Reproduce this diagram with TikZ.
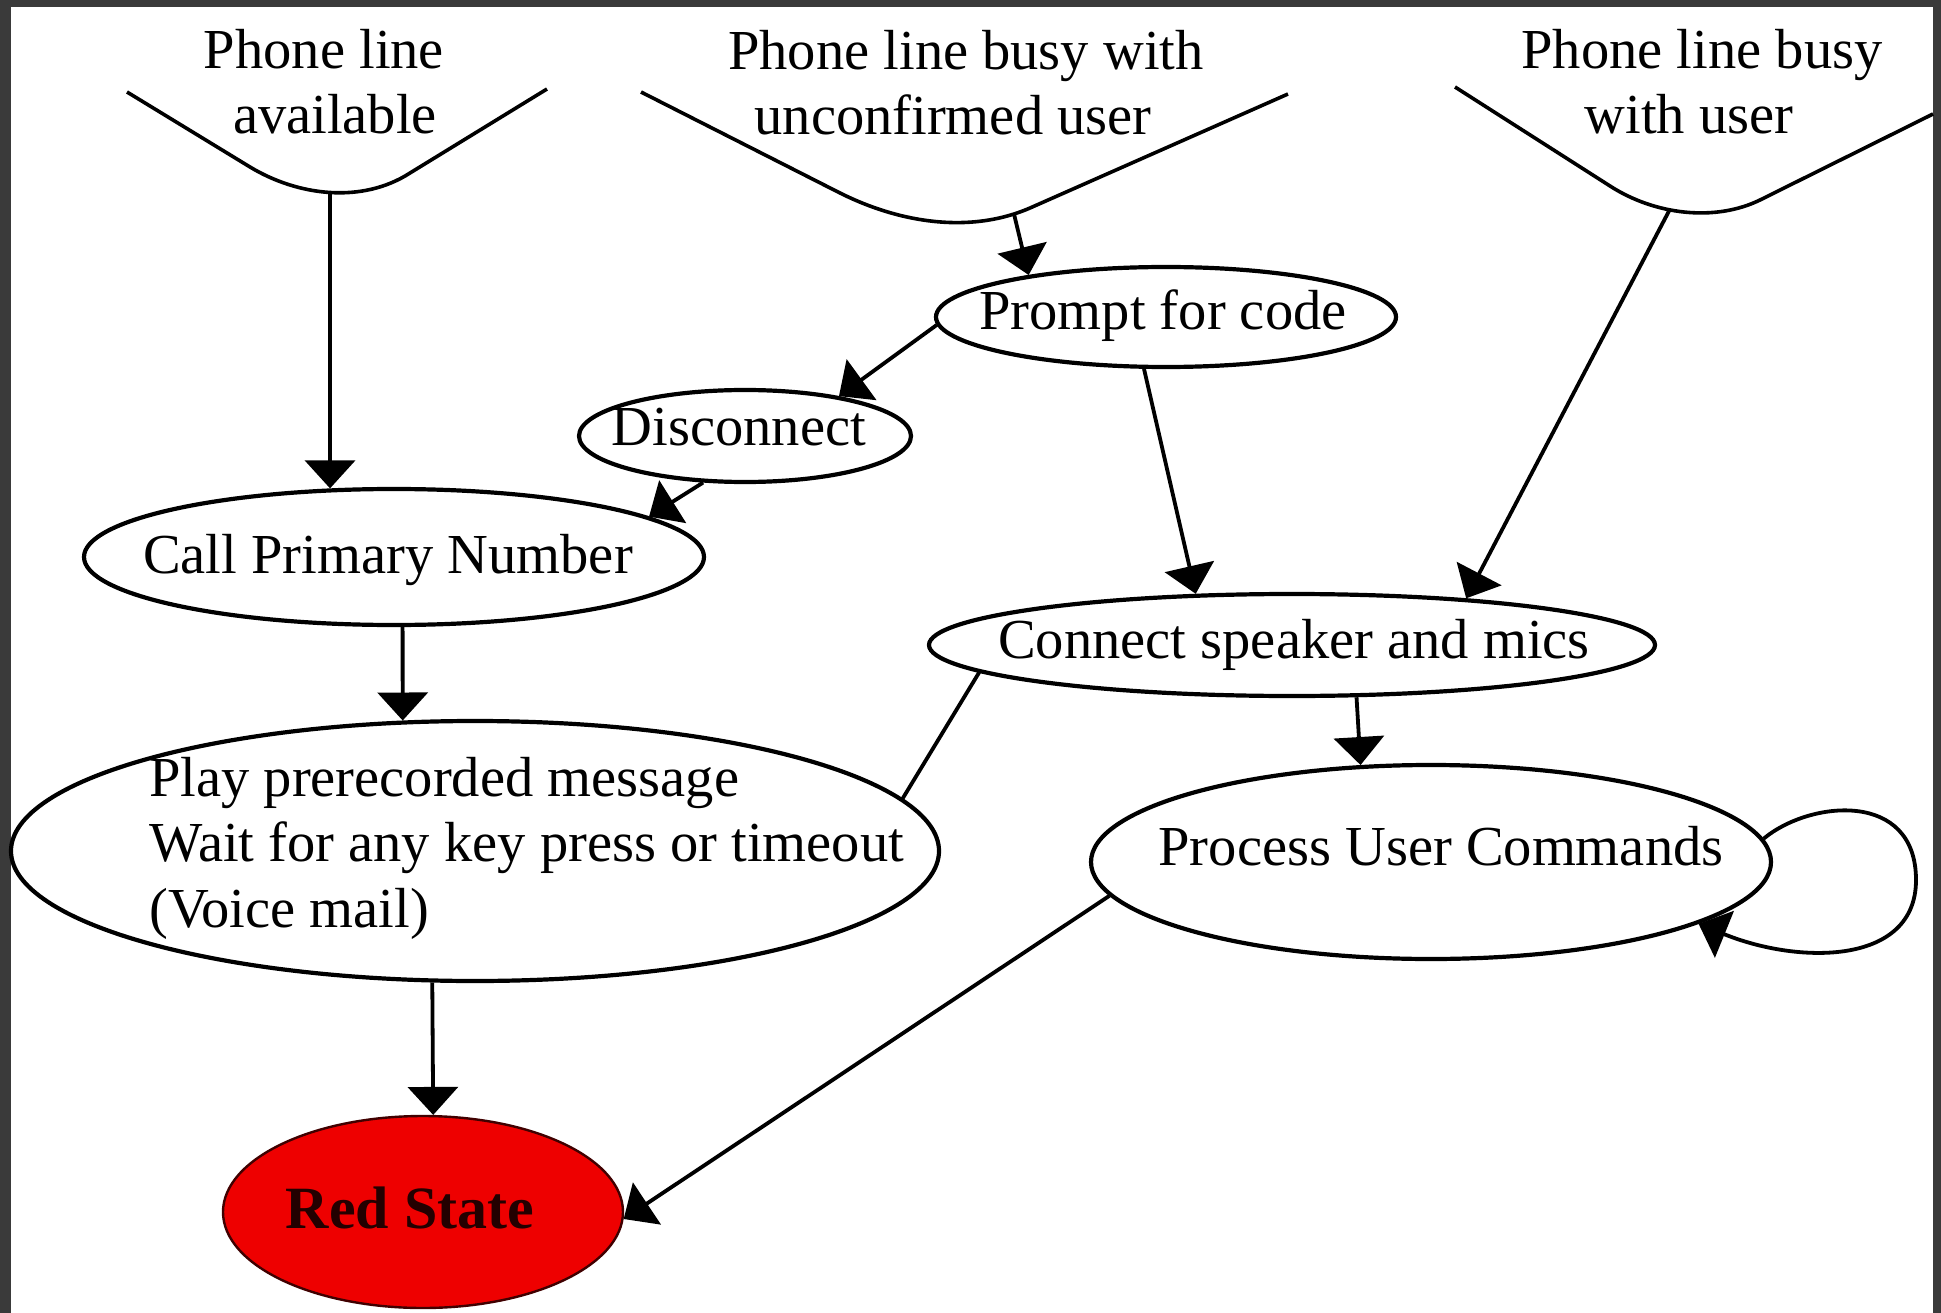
\documentclass[tikz,border=0pt]{standalone}
\usepackage{fontspec}
\setmainfont{Liberation Serif}
\usetikzlibrary{arrows.meta,shapes.geometric}
\definecolor{framegray}{RGB}{58,58,58}
\definecolor{redfill}{RGB}{238,0,0}
\definecolor{redtext}{RGB}{35,0,0}
\begin{document}
\begin{tikzpicture}[x=1pt,y=-1pt,
  st/.style={draw=black, line width=4.2pt, ellipse, inner sep=0pt},
  lbl/.style={font=\fontsize{56.5}{65}\selectfont, inner sep=0pt, anchor=base},
  edge/.style={line width=3.8pt, -{Triangle[width=50pt,length=28pt]}},
  plainline/.style={line width=3.8pt},
  topshape/.style={line width=3.6pt, line join=round}]

\useasboundingbox (0,0) rectangle (1941,1313);
\fill[framegray] (0,0) rectangle (1941,1313);
\fill[white] (11,7) rectangle (1933,1313);

% top (source) shapes
\draw[topshape] (127,92) -- (250,167) .. controls (298,196) and (362,204) .. (410,173) -- (547,89);
\coordinate (s1) at (330,194);
\node[lbl] (s1a) at (324,69) {Phone line};
\node[lbl] (s1b) at (335,134) {available};

\draw[topshape] (641,92) -- (840,193) .. controls (900,223) and (970,234) .. (1030,208) -- (1288,94);
\coordinate (s2) at (1014,214);
\node[lbl] (s2a) at (966,70) {Phone line busy with};
\node[lbl] (s2b) at (953,135) {unconfirmed user};

\draw[topshape] (1455,87) -- (1610,186) .. controls (1655,215) and (1715,222) .. (1760,200) -- (1933,114);
\coordinate (s3) at (1669,211);
\node[lbl] (s3a) at (1702,69) {Phone line busy};
\node[lbl] (s3b) at (1689,134) {with user};

% state ellipses
\node[st, minimum width=460pt, minimum height=100pt] (prompt) at (1166,317) {};
\node[lbl] (promptt) at (1163,330) {Prompt for code};

\node[st, minimum width=332pt, minimum height=92pt] (disc) at (745,436) {};
\node[lbl] (disct) at (739,446) {Disconnect};

\node[st, minimum width=620pt, minimum height=136pt] (call) at (394,557) {};
\node[lbl] (callt) at (388,573) {Call Primary Number};

\node[st, minimum width=928pt, minimum height=260pt] (play) at (475,851) {};
\node[lbl, anchor=base west] (playa) at (149,796) {Play prerecorded message};
\node[lbl, anchor=base west] (playb) at (149,861) {Wait for any key press or timeout};
\node[lbl, anchor=base west] (playc) at (149,927) {(Voice mail)};

\node[st, minimum width=726pt, minimum height=102pt] (conn) at (1292,645) {};
\node[lbl] (connt) at (1294,658) {Connect speaker and mics};

\node[st, minimum width=680pt, minimum height=194pt] (proc) at (1431,862) {};
\node[lbl] (proct) at (1441,865) {Process User Commands};

\node[st, fill=redfill, draw=black!75!red, line width=2.4pt, minimum width=400pt, minimum height=192pt] (red) at (423,1212) {};
\node[lbl, font=\fontsize{60}{70}\selectfont\bfseries, text=redtext] (redt) at (410,1228) {Red State};

% connectors
\draw[edge] (s1) -- (call.133.9);
\draw[edge] (s2) -- (prompt.163);
\draw[edge] (s3) -- (conn.15.3);
\draw[edge] (prompt.182.5) -- (disc.23.6);
\draw[edge] (disc.228.4) -- (call.9.3);
\draw[edge] (call.277.5) -- (play.119.3);
\draw[edge] (play.252) -- (red.84.05);
\draw[edge] (prompt.247.5) -- (conn.152.1);
\draw[edge] (conn.321.4) -- (proc.126);
\draw[plainline] (conn.185.5) -- (play.7.97);
\draw[edge] (proc.186.9) -- (red.358.3);
\draw[edge] (proc.4.65) .. controls (1810,800) and (1916,790) .. (1916,880) .. controls (1916,965) and (1800,965) .. (proc.347.3);
\end{tikzpicture}
\end{document}
